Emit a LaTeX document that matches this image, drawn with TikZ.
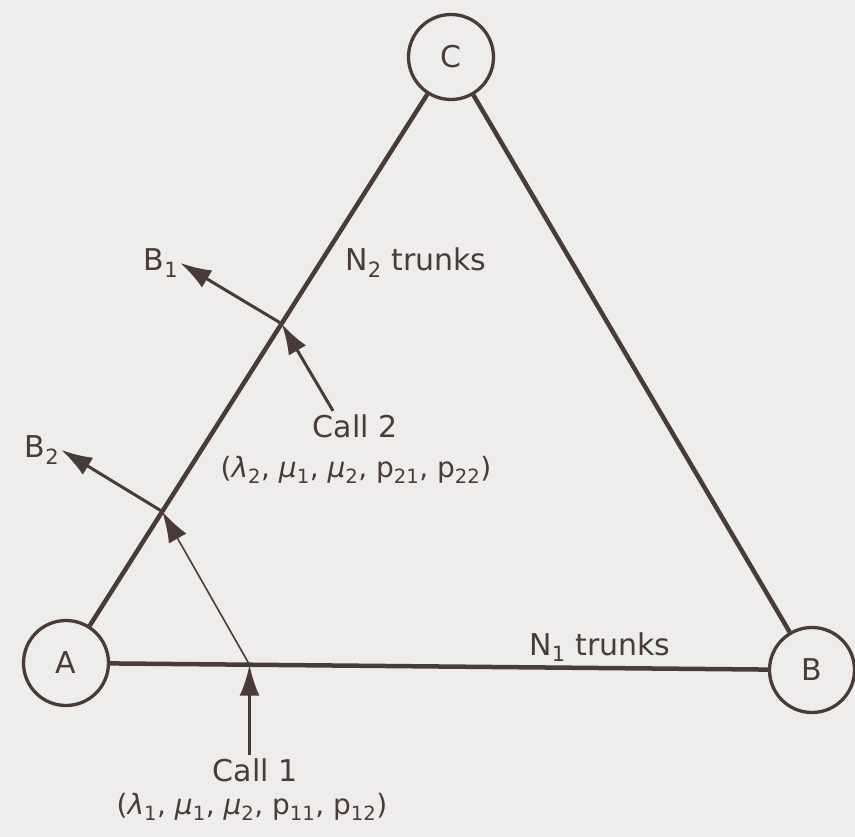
\documentclass[tikz,border=0pt]{standalone}
\usepackage{fontspec}
\setmainfont{DejaVu Sans}
\usetikzlibrary{arrows.meta, positioning, calc}
\definecolor{ink}{HTML}{4A3B3B}
\definecolor{paper}{HTML}{EFEDEC}

\begin{document}
\begin{tikzpicture}[x=1pt, y=-1pt, >={Latex[length=31pt, width=20pt]},
  station/.style={circle, draw=ink, line width=3.3pt, minimum size=85pt, inner sep=0pt, text=ink, font=\fontsize{30}{34}\selectfont},
  trunk/.style={ink, line width=4.5pt},
  route/.style={ink, ->, line width=3pt},
  txt/.style={text=ink, font=\fontsize{30}{34}\selectfont},
  params/.style={text=ink, font=\fontsize{28}{32}\selectfont}]

% Background
\fill[paper] (0,0) rectangle (855,837);
\useasboundingbox (0,0) rectangle (855,837);

% Stations
\node[station] (A) at (66,663) {A};
\node[station] (B) at (812,670) {B};
\node[station] (C) at (451,57) {C};

% Trunk groups
\draw[trunk] (A) -- (B);
\draw[trunk] (A) -- (C);
\draw[trunk] (C) -- (B);
\node[txt] (n2) at (416,263) {N\textsubscript{2} trunks};
\node[txt] (n1) at (600,647) {N\textsubscript{1} trunks};

% Points where the calls meet the trunks
\coordinate (hitAB) at ($(A)!0.246!(B)$);
\coordinate (hitAC1) at ($(A)!0.25!(C)$);
\coordinate (hitAC2) at ($(A)!0.56!(C)$);

% Destinations
\node[txt, inner xsep=2pt] (lblB1) at (161,263) {B\textsubscript{1}};
\node[txt, inner xsep=2pt] (lblB2) at (42,450) {B\textsubscript{2}};

% Call 1
\node[txt] (call1) at (255,770) {Call 1};
\node[params] (par1) at (252,807) {(\textit{λ}\textsubscript{1}, \textit{μ}\textsubscript{1}, \textit{μ}\textsubscript{2}, p\textsubscript{11}, p\textsubscript{12})};
\draw[route] (hitAB |- call1.north) -- (hitAB);
\draw[route, line width=1.6pt] (hitAB) -- (hitAC1);
\draw[route] (hitAC1) -- (lblB2.east);

% Call 2
\node[txt] (call2) at (355,426) {Call 2};
\node[params] (par2) at (356,470) {(\textit{λ}\textsubscript{2}, \textit{μ}\textsubscript{1}, \textit{μ}\textsubscript{2}, p\textsubscript{21}, p\textsubscript{22})};
\draw[route] ([xshift=-22pt]call2.north) -- (hitAC2);
\draw[route] (hitAC2) -- (lblB1.east);

\end{tikzpicture}
\end{document}
